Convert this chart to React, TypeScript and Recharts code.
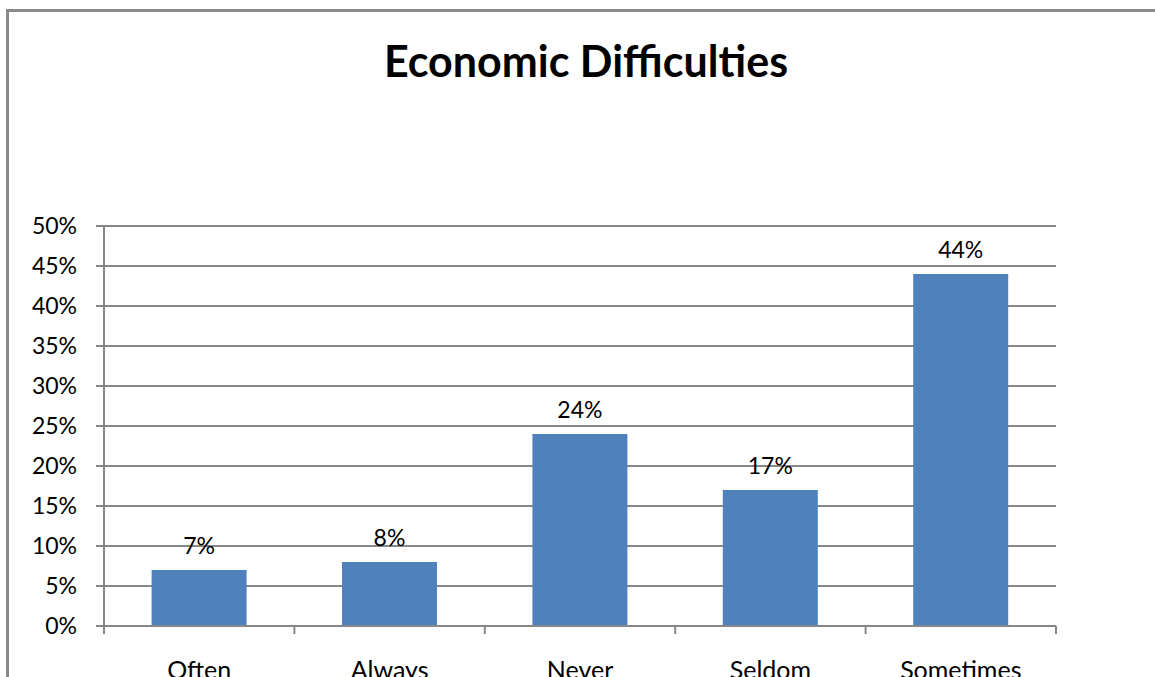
import React from 'react';
import { BarChart, Bar, XAxis, YAxis, CartesianGrid, LabelList } from 'recharts';

const categories = ['Often', 'Always', 'Never', 'Seldom', 'Sometimes'];
const shares = [0.07, 0.08, 0.24, 0.17, 0.44];
const yTicks = [0, 0.05, 0.1, 0.15, 0.2, 0.25, 0.3, 0.35, 0.4, 0.45, 0.5];

const data = categories.map((name, i) => ({ name, value: shares[i] }));

const FONT = 'Lato, "Open Sans", sans-serif';
const GRID = '#878787';

const pct = (v: number) => `${Math.round(v * 100)}%`;

// category labels plus Excel-style tick marks at the band edges
const CategoryTick = (props: any) => {
  const { x, y, payload, index, width, visibleTicksCount } = props;
  const band = width / (visibleTicksCount || categories.length);
  const top = y - 8;
  return (
    <g>
      <line x1={x - band / 2} x2={x - band / 2} y1={top} y2={top + 8} stroke={GRID} strokeWidth={2} />
      {index === categories.length - 1 && (
        <line x1={x + band / 2} x2={x + band / 2} y1={top} y2={top + 8} stroke={GRID} strokeWidth={2} />
      )}
      <text x={x} y={top + 53} textAnchor="middle" fontSize={25} fontFamily={FONT} fill="#000">
        {payload.value}
      </text>
    </g>
  );
};

export default function App() {
  return (
    <div style={{ position: 'absolute', left: 0, top: 0, width: 1155, height: 677, overflow: 'hidden', background: '#fff' }}>
      <div
        style={{
          position: 'absolute',
          left: 6,
          top: 9,
          width: 1300,
          height: 800,
          border: '3px solid #8a8a8a',
          boxSizing: 'border-box',
        }}
      />
      <div
        style={{
          position: 'absolute',
          left: 0,
          width: 1172,
          top: 34,
          textAlign: 'center',
          fontFamily: FONT,
          fontWeight: 700,
          fontSize: 43,
          lineHeight: '54px',
          color: '#000',
        }}
      >
        Economic Difficulties
      </div>
      <div style={{ position: 'absolute', left: 0, top: 0 }}>
        <BarChart
          width={1155}
          height={720}
          data={data}
          margin={{ top: 226, right: 99, bottom: 43, left: 0 }}
          barCategoryGap="25%"
        >
          <CartesianGrid vertical={false} stroke={GRID} strokeWidth={2} />
          <XAxis
            dataKey="name"
            height={51}
            axisLine={{ stroke: GRID, strokeWidth: 2 }}
            tickLine={false}
            tick={<CategoryTick />}
            interval={0}
          />
          <YAxis
            width={104}
            domain={[0, 0.5]}
            ticks={yTicks}
            tickFormatter={pct}
            axisLine={{ stroke: GRID, strokeWidth: 2 }}
            tickLine={{ stroke: GRID, strokeWidth: 2 }}
            tickSize={8}
            tick={{ fontSize: 23, fontFamily: FONT, fill: '#000', dx: -17 }}
            interval={0}
          />
          <Bar dataKey="value" fill="#4F81BD" isAnimationActive={false}>
            <LabelList
              dataKey="value"
              position="top"
              offset={16}
              formatter={(v: any) => pct(Number(v))}
              style={{ fontSize: 23, fontFamily: FONT, fill: '#000' }}
            />
          </Bar>
        </BarChart>
      </div>
    </div>
  );
}
